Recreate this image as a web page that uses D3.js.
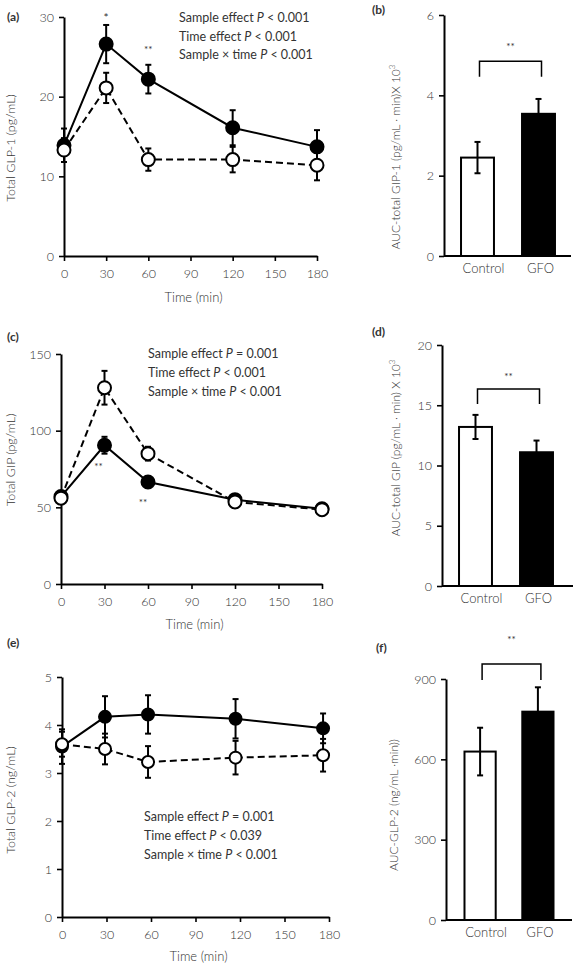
<!DOCTYPE html>
<html>
<head>
<meta charset="utf-8">
<script src="https://cdn.jsdelivr.net/npm/d3@7"></script>
<style>
  html, body { margin: 0; padding: 0; background: #fff; }
  svg { display: block; }
  text { font-family: Lato, "Noto Sans", sans-serif; fill: #333; }
</style>
</head>
<body>
<script>
// ---------- DATA ----------
const times = [0, 30, 60, 120, 180];
const timesGLP2 = [0, 29, 58, 117, 176];
const timeTicks = [0, 30, 60, 90, 120, 150, 180];

const glp1GFO = [13.9, 26.6, 22.2, 16.1, 13.7];
const glp1GFOErr = [2.1, 2.4, 1.8, 2.2, 2.1];
const glp1Ctrl = [13.3, 21.1, 12.1, 12.1, 11.4];
const glp1CtrlErr = [1.5, 1.9, 1.4, 1.6, 1.9];

const gipGFO = [57, 90.5, 66.5, 55, 49];
const gipGFOErr = [3, 5.5, 2, 2, 1.5];
const gipCtrl = [56, 128, 85, 53.5, 48.5];
const gipCtrlErr = [3, 11, 4.5, 2, 1.5];

const glp2GFO = [3.55, 4.17, 4.22, 4.13, 3.93];
const glp2GFOErr = [0.36, 0.43, 0.4, 0.41, 0.31];
const glp2Ctrl = [3.6, 3.5, 3.23, 3.32, 3.37];
const glp2CtrlErr = [0.26, 0.32, 0.33, 0.35, 0.34];

const groups = ["Control", "GFO"];
const aucGLP1 = [2.45, 3.54];
const aucGLP1Err = [0.39, 0.37];
const aucGIP = [13.2, 11.1];
const aucGIPErr = [1.0, 0.97];
const aucGLP2 = [629, 778];
const aucGLP2Err = [89, 91];

const ticksGLP1 = [0, 10, 20, 30];
const ticksGIP = [0, 50, 100, 150];
const ticksGLP2 = [0, 1, 2, 3, 4, 5];
const ticksAUC1 = [0, 2, 4, 6];
const ticksAUC2 = [0, 5, 10, 15, 20];
const ticksAUC3 = [0, 300, 600, 900];

// ---------- DRAW ----------
const svg = d3.select("body").append("svg").attr("width", 574).attr("height", 965);
const fmt = d3.format("d");
const GREY = "#3a3a3a";

function styleAxis(g) {
  g.selectAll(".domain").attr("stroke", "#000").attr("stroke-width", 2);
  g.selectAll(".tick line").attr("stroke", "#000").attr("stroke-width", 1.6);
  g.selectAll(".tick text").attr("font-size", 12.5).attr("fill", GREY).attr("font-weight", 300)
    .style("font-family", "Lato, 'Noto Sans', sans-serif");
}

function label(txt, x, y, opts = {}) {
  const t = svg.append("text").attr("x", x).attr("y", y)
    .attr("font-size", opts.size || 12).attr("text-anchor", opts.anchor || "start");
  if (opts.bold) t.attr("font-weight", "bold").attr("fill", "#111");
  else t.attr("font-weight", opts.weight || 300);
  if (opts.fill) t.attr("fill", opts.fill);
  t.text(txt);
  return t;
}

function ylabel(parts, cx, cy, size) {
  const t = svg.append("text")
    .attr("transform", `translate(${cx},${cy}) rotate(-90)`)
    .attr("text-anchor", "middle").attr("dy", "0.35em").attr("font-weight", 300)
    .attr("font-size", size || 12.5).attr("fill", GREY);
  parts.forEach(p => {
    const s = t.append("tspan").text(p.t);
    if (p.sup) s.attr("baseline-shift", "super").attr("font-size", 8);
  });
}

function stats(lines, x, y0, dy) {
  lines.forEach((ln, i) => {
    const t = svg.append("text").attr("x", x).attr("y", y0 + i * dy).attr("font-size", 12.5)
      .attr("font-weight", 400).attr("fill", "#333");
    t.append("tspan").text(ln[0]);
    t.append("tspan").attr("font-style", "italic").text("P");
    t.append("tspan").text(ln[1]);
  });
}

function linePanel(cfg) {
  const x = d3.scaleLinear().domain([0, 180]).range(cfg.xr);
  const y = d3.scaleLinear().domain(cfg.ydom).range(cfg.yr);
  const g = svg.append("g");

  const xa = g.append("g").attr("transform", `translate(0,${cfg.yr[0]})`)
    .call(d3.axisBottom(x).tickValues(timeTicks).tickFormat(fmt).tickSize(5).tickSizeOuter(0).tickPadding(8));
  styleAxis(xa);
  const ya = g.append("g").attr("transform", `translate(${cfg.xr[0]},0)`)
    .call(d3.axisLeft(y).tickValues(cfg.yticks).tickFormat(fmt).tickSize(5).tickSizeOuter(0).tickPadding(5));
  styleAxis(ya);

  const series = [
    { t: cfg.t, v: cfg.ctrl, e: cfg.ctrlErr, fill: "#fff", dash: "7,4" },
    { t: cfg.t, v: cfg.gfo, e: cfg.gfoErr, fill: "#000", dash: null }
  ];
  series.forEach(s => {
    s.v.forEach((v, i) => {
      const cx = x(s.t[i]);
      g.append("line").attr("x1", cx).attr("x2", cx).attr("y1", y(v - s.e[i])).attr("y2", y(v + s.e[i]))
        .attr("stroke", "#000").attr("stroke-width", 2);
      [v - s.e[i], v + s.e[i]].forEach(ev => {
        g.append("line").attr("x1", cx - 3).attr("x2", cx + 3).attr("y1", y(ev)).attr("y2", y(ev))
          .attr("stroke", "#000").attr("stroke-width", 2);
      });
    });
  });
  const lineGen = d3.line().x(d => x(d[0])).y(d => y(d[1]));
  [1, 0].forEach(k => {
    const s = series[k];
    g.append("path").datum(s.t.map((t, i) => [t, s.v[i]])).attr("d", lineGen)
      .attr("fill", "none").attr("stroke", "#000").attr("stroke-width", 2)
      .attr("stroke-dasharray", s.dash);
  });
  [1, 0].forEach(k => {
    const s = series[k];
    g.selectAll(null).data(s.t.map((t, i) => [t, s.v[i]])).join("circle")
      .attr("cx", d => x(d[0])).attr("cy", d => y(d[1])).attr("r", cfg.r)
      .attr("fill", s.fill).attr("stroke", "#000").attr("stroke-width", 2);
  });
  label("Time (min)", (x(0) + x(180)) / 2 + 3, cfg.titleY, { anchor: "middle", size: 13, fill: GREY });
  return { x, y };
}

function barPanel(cfg) {
  const y = d3.scaleLinear().domain(cfg.ydom).range(cfg.yr);
  const x = d3.scaleBand().domain(groups).range([cfg.x0, cfg.x1]).paddingInner(0.46).paddingOuter(cfg.po);
  const g = svg.append("g");
  const ya = g.append("g").attr("transform", `translate(${cfg.x0},0)`)
    .call(d3.axisLeft(y).tickValues(cfg.yticks).tickFormat(fmt).tickSize(5).tickSizeOuter(0).tickPadding(5));
  styleAxis(ya);
  cfg.vals.forEach((v, i) => {
    const cx = x(groups[i]) + x.bandwidth() / 2;
    g.append("line").attr("x1", cx).attr("x2", cx).attr("y1", y(v - cfg.errs[i])).attr("y2", y(v + cfg.errs[i]))
      .attr("stroke", "#000").attr("stroke-width", 2);
    [v + cfg.errs[i], v - cfg.errs[i]].forEach(ev => {
      g.append("line").attr("x1", cx - 3).attr("x2", cx + 3).attr("y1", y(ev)).attr("y2", y(ev))
        .attr("stroke", "#000").attr("stroke-width", 2);
    });
  });
  g.selectAll(null).data(cfg.vals).join("rect")
    .attr("x", (d, i) => x(groups[i])).attr("width", x.bandwidth())
    .attr("y", d => y(d)).attr("height", d => y(0) - y(d))
    .attr("fill", (d, i) => i === 0 ? "none" : "#000").attr("stroke", "#000").attr("stroke-width", 2);
  g.append("line").attr("x1", cfg.x0).attr("x2", cfg.axisEnd).attr("y1", y(0)).attr("y2", y(0))
    .attr("stroke", "#000").attr("stroke-width", 2);
  groups.forEach((gr, i) => {
    label(gr, x(gr) + x.bandwidth() / 2 + (i === 0 ? 6 : 2), y(0) + 17, { anchor: "middle", size: 13, fill: GREY });
  });
  const bx1 = x(groups[0]) + x.bandwidth() / 2 + 2, bx2 = x(groups[1]) + x.bandwidth() / 2 + 3;
  g.append("path").attr("d", `M${bx1},${y(cfg.bLow)}V${y(cfg.bHigh)}H${bx2}V${y(cfg.bLow)}`)
    .attr("fill", "none").attr("stroke", "#000").attr("stroke-width", 1.5);
  label("**", (bx1 + bx2) / 2, y(cfg.star) + 5, { anchor: "middle", size: 10, fill: "#555", weight: 400 });
}

// Panel a
const pa = linePanel({ xr: [64, 317], yr: [256, 17], ydom: [0, 30], yticks: ticksGLP1, t: times,
  gfo: glp1GFO, gfoErr: glp1GFOErr, ctrl: glp1Ctrl, ctrlErr: glp1CtrlErr, r: 6.5, titleY: 302 });
label("*", pa.x(30), 22, { anchor: "middle", size: 12, fill: "#222", weight: 400 });
label("**", pa.x(60), 53, { anchor: "middle", size: 10, fill: "#555", weight: 400 });
stats([["Sample effect ", " < 0.001"], ["Time effect ", " < 0.001"], ["Sample × time ", " < 0.001"]], 179, 22, 18.5);
ylabel([{ t: "Total GLP-1 (pg/mL)" }], 11, 148);
label("(a)", 7, 21, { bold: true, size: 12 });

// Panel b
barPanel({ x0: 444, x1: 572, axisEnd: 571, po: 0.279, yr: [256, 15], ydom: [0, 6], yticks: ticksAUC1,
  vals: aucGLP1, errs: aucGLP1Err, bLow: 4.46, bHigh: 4.85, star: 5.25 });
ylabel([{ t: "AUC-total GIP-1 (pg/mL · min)X 10" }, { t: "3", sup: true }], 396, 157, 12);
label("(b)", 372, 14, { bold: true, size: 12 });

// Panel c
const pc = linePanel({ xr: [61, 322], yr: [584, 354], ydom: [0, 150], yticks: ticksGIP, t: times,
  gfo: gipGFO, gfoErr: gipGFOErr, ctrl: gipCtrl, ctrlErr: gipCtrlErr, r: 6.5, titleY: 629 });
label("**", pc.x(30) - 6, pc.y(gipGFO[1]) + 25, { anchor: "middle", size: 10, fill: "#555", weight: 400 });
label("**", pc.x(60) - 5, pc.y(gipGFO[2]) + 24, { anchor: "middle", size: 10, fill: "#555", weight: 400 });
stats([["Sample effect ", " = 0.001"], ["Time effect ", " < 0.001"], ["Sample × time ", " < 0.001"]], 148, 358, 19);
ylabel([{ t: "Total GIP (pg/mL)" }], 11, 460);
label("(c)", 7, 341, { bold: true, size: 12 });

// Panel d
barPanel({ x0: 442, x1: 570, axisEnd: 573, po: 0.279, yr: [586, 345], ydom: [0, 20], yticks: ticksAUC2,
  vals: aucGIP, errs: aucGIPErr, bLow: 15.1, bHigh: 16.35, star: 17.5 });
ylabel([{ t: "AUC-total GIP (pg/mL · min) X 10" }, { t: "3", sup: true }], 396, 448, 12);
label("(d)", 372, 336, { bold: true, size: 12 });

// Panel e
const pe = linePanel({ xr: [62, 329], yr: [917, 677], ydom: [0, 5], yticks: ticksGLP2, t: timesGLP2,
  gfo: glp2GFO, gfoErr: glp2GFOErr, ctrl: glp2Ctrl, ctrlErr: glp2CtrlErr, r: 6, titleY: 961 });
stats([["Sample effect ", " = 0.001"], ["Time effect ", " < 0.039"], ["Sample × time ", " < 0.001"]], 144, 821, 19);
ylabel([{ t: "Total GLP-2 (ng/mL)" }], 11, 800);
label("(e)", 7, 647, { bold: true, size: 12 });

// Panel f
barPanel({ x0: 446, x1: 572, axisEnd: 572, po: 0.32, yr: [920, 679], ydom: [0, 900], yticks: ticksAUC3,
  vals: aucGLP2, errs: aucGLP2Err, bLow: 896, bHigh: 956, star: 1053 });
ylabel([{ t: "AUC-GLP-2 (ng/mL ·min))" }], 394, 805, 12);
label("(f)", 376, 652, { bold: true, size: 12 });
</script>
</body>
</html>
